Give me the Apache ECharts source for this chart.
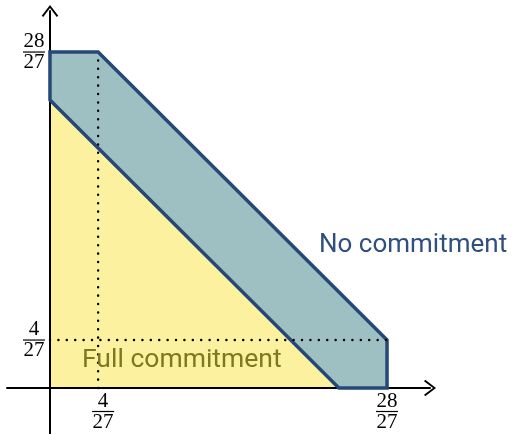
<!DOCTYPE html>
<html>
<head>
<meta charset="utf-8">
<script src="https://cdn.jsdelivr.net/npm/echarts@6/dist/echarts.min.js"></script>
<style>
  html, body { margin: 0; padding: 0; background: #fff; }
  #chart { width: 517px; height: 434px; }
</style>
</head>
<body>
<div id="chart"></div>
<script>
// values are in the chart's own units (multiples of 1/27)
const lo = 4 / 27;
const hi = 28 / 27;
const inner = 24 / 27;

// yellow triangle: full commitment
const fullX = [0, 0, inner];
const fullY = [0, inner, 0];

// teal band: no commitment
const noX = [0, 0, lo, hi, hi, inner];
const noY = [inner, hi, hi, lo, 0, 0];

// dotted guides
const guideV = [[lo, 0], [lo, hi]];
const guideH = [[0, lo], [hi, lo]];

// tick labels (fractions)
const tickValues = [lo, hi];
const tickNum = ['4', '28'];
const tickDen = ['27', '27'];

const arrow = 'path://M10,0 L20,13 L18.2,14.5 L10,3.6 L1.8,14.5 L0,13 Z';

const chart = echarts.init(document.getElementById('chart'));

// the small x fraction sits a little right of its tick in the original
function frac(v, shifted) {
  const i = tickValues.findIndex(t => Math.abs(t - v) < 1e-6);
  if (i < 0) return '';
  const s = shifted && i === 0 ? 's' : '';
  return '{n' + s + '|' + tickNum[i] + '}\n{r' + s + '| }\n{d' + s + '|' + tickDen[i] + '}';
}

const numStyle = { fontFamily: 'Liberation Serif', fontSize: 21, lineHeight: 18, width: 22, align: 'center', color: '#000' };
const ruleStyle = { width: 22, height: 1.2, lineHeight: 3, backgroundColor: '#000' };
const shift = { padding: [0, 0, 0, 10] };
const rich = {
  n: numStyle, r: ruleStyle, d: numStyle,
  ns: Object.assign({}, numStyle, shift),
  rs: Object.assign({}, ruleStyle, { padding: [0, 0, 0, 0], align: 'right' }),
  ds: Object.assign({}, numStyle, shift)
};

const axisLine = {
  onZero: false,
  symbol: ['none', arrow],
  symbolSize: [17, 12],
  lineStyle: { color: '#000', width: 2 }
};

chart.setOption({
  animation: false,
  grid: { left: 7, right: 87, top: 11, bottom: 0, outerBoundsMode: 'none' },
  xAxis: {
    type: 'value',
    min: -3.57 / 27,
    max: 31.57 / 27,
    offset: -46,
    z: 3,
    axisLine: axisLine,
    axisTick: { show: false },
    splitLine: { show: false },
    axisLabel: { customValues: tickValues, margin: 4, formatter: v => frac(v, true), rich: rich }
  },
  yAxis: {
    type: 'value',
    min: -3.83 / 27,
    max: 31.42 / 27,
    offset: -43,
    z: 3,
    axisLine: axisLine,
    axisTick: { show: false },
    splitLine: { show: false },
    axisLabel: { customValues: tickValues, margin: 5, formatter: v => frac(v, false), rich: rich }
  },
  series: [
    {
      type: 'custom',
      z: 1,
      data: [[0, 0]],
      renderItem: (params, api) => ({
        type: 'polygon',
        shape: { points: fullX.map((x, i) => api.coord([x, fullY[i]])) },
        style: { fill: '#fbf19f' }
      })
    },
    {
      type: 'custom',
      z: 4,
      data: [[0, 0]],
      renderItem: (params, api) => ({
        type: 'polygon',
        shape: { points: noX.map((x, i) => api.coord([x, noY[i]])) },
        style: { fill: '#9fc0c2', stroke: '#264877', lineWidth: 3.5, lineJoin: 'miter' }
      })
    },
    {
      type: 'line',
      z: 5,
      data: guideV,
      symbol: 'none',
      lineStyle: { color: '#000', width: 2.4, type: [0.1, 8.3], cap: 'round' }
    },
    {
      type: 'line',
      z: 5,
      data: guideH,
      symbol: 'none',
      lineStyle: { color: '#000', width: 2.4, type: [0.1, 8.3], cap: 'round' }
    }
  ],
  graphic: [
    {
      type: 'text', x: 319, y: 245, z: 10,
      style: { text: 'No commitment', font: '26px Roboto', fill: '#2f4f7f', verticalAlign: 'middle' }
    },
    {
      type: 'text', x: 82, y: 360, z: 10,
      style: { text: 'Full commitment', font: '26.5px Roboto', fill: '#7d7821', verticalAlign: 'middle' }
    }
  ]
});
</script>
</body>
</html>
